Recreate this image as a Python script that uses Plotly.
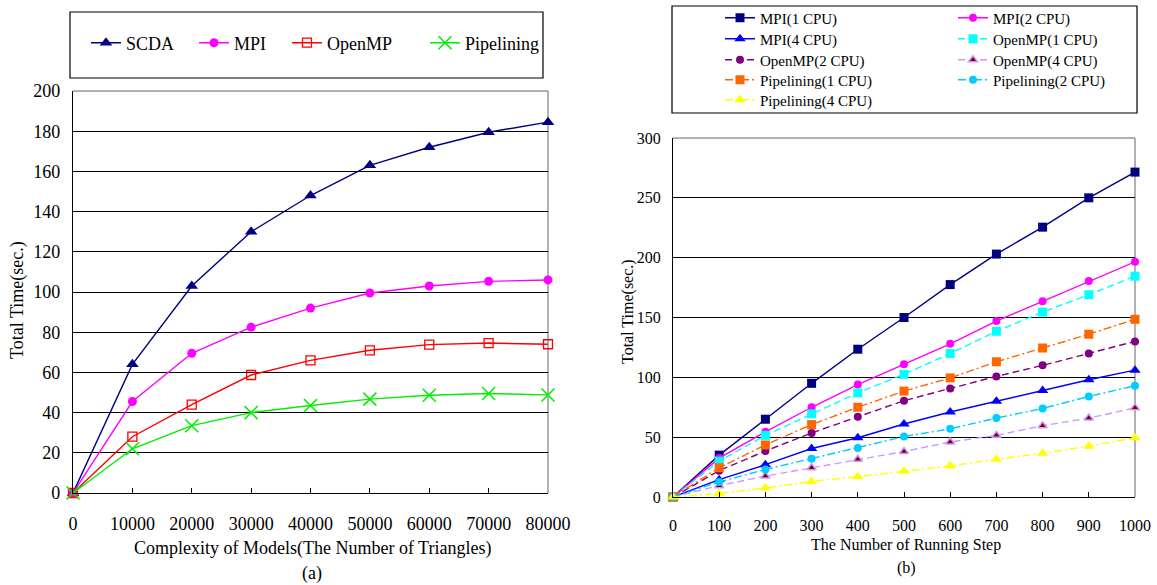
import plotly.graph_objects as go

# ---------------- data: chart (a) ----------------
complexity = [0, 10000, 20000, 30000, 40000, 50000, 60000, 70000, 80000]
scda = [0, 64, 103, 130, 148, 163, 172, 179.5, 184.5]
mpi = [0, 45.5, 69.5, 82.5, 92, 99.5, 103, 105.3, 106]
openmp = [0, 28, 44, 58.7, 66, 71, 73.8, 74.6, 74]
pipelining = [0, 22, 33.5, 40, 43.5, 46.7, 48.6, 49.5, 48.8]
ticks_a_x = [0, 10000, 20000, 30000, 40000, 50000, 60000, 70000, 80000]
ticks_a_y = [0, 20, 40, 60, 80, 100, 120, 140, 160, 180, 200]

# ---------------- data: chart (b) ----------------
steps = [0, 100, 200, 300, 400, 500, 600, 700, 800, 900, 1000]
mpi_1 = [0, 35, 65, 95, 123.5, 150, 177.5, 203, 225.5, 250, 271.5]
mpi_2 = [0, 32.5, 54.5, 75, 94, 111, 128, 147, 163.5, 180.5, 196.5]
mpi_4 = [0, 14.5, 27, 40.5, 49.5, 61, 71, 80, 89, 98, 106]
omp_1 = [0, 30, 51.5, 69.5, 87, 102.5, 120, 138.5, 154.5, 169, 184.5]
omp_2 = [0, 22, 38.5, 53.5, 67, 80.5, 90.7, 100.8, 110, 120, 130]
omp_4 = [0, 9.5, 17.5, 24.5, 31.5, 38, 46, 51.5, 59.5, 66, 74.5]
pip_1 = [0, 24.5, 43.5, 60.5, 75, 88.5, 99.5, 113, 124.5, 136, 148.5]
pip_2 = [0, 12.5, 23, 32, 41, 50.5, 57, 66, 74, 84, 93]
pip_4 = [0, 3, 7.5, 13, 17, 21.5, 26, 31.5, 36.5, 42.5, 49.5]
ticks_b_x = [0, 100, 200, 300, 400, 500, 600, 700, 800, 900, 1000]
ticks_b_y = [0, 50, 100, 150, 200, 250, 300]

W, H = 1157, 585
SERIF = "Liberation Serif"


def px_x(v):
    return v / W


def px_y(v):
    return 1 - v / H


fig = go.Figure()
legend_layout = {}
leg_count = [0]


def new_legend(x_px, y_px, size):
    leg_count[0] += 1
    key = "legend" if leg_count[0] == 1 else f"legend{leg_count[0]}"
    legend_layout[key] = dict(
        x=px_x(x_px), y=px_y(y_px), xanchor="left", yanchor="middle",
        bgcolor="rgba(0,0,0,0)", borderwidth=0, itemclick=False, itemdoubleclick=False,
        font=dict(family=SERIF, size=size, color="#000000"))
    return key


# ---- chart (a) traces ----
a_series = [
    ("SCDA", scda, "#000080", dict(symbol="triangle-up", size=11, color="#000080"), 86),
    ("MPI", mpi, "#FF00FF", dict(symbol="circle", size=9, color="#FF00FF"), 194),
    ("OpenMP", openmp, "#FF0000", dict(symbol="square-open", size=9, color="#FF0000", line=dict(width=1.3)), 287),
    ("Pipelining", pipelining, "#00EE00", dict(symbol="x-thin-open", size=13, color="#00EE00", line=dict(width=1.5, color="#00EE00")), 425),
]
for name, ys, col, mk, lx in a_series:
    lg = new_legend(lx, 43, 18)
    fig.add_trace(go.Scatter(
        x=complexity, y=ys, name=name, mode="lines+markers",
        line=dict(color=col, width=1.4), marker=mk,
        xaxis="x", yaxis="y", legend=lg, cliponaxis=False))

# ---- chart (b) traces ----
SOLID = "solid"
DASH = "7px,4px"
DASHDOT = "8px,3px,2px,3px"
COL1, COL2 = 720, 953
ROWS = [18, 39, 60, 80, 100]
b_series = [
    ("MPI(1 CPU)", mpi_1, "#000080", SOLID, dict(symbol="square", size=9, color="#000080"), COL1, ROWS[0]),
    ("MPI(2 CPU)", mpi_2, "#FF00FF", SOLID, dict(symbol="circle", size=8, color="#FF00FF"), COL2, ROWS[0]),
    ("MPI(4 CPU)", mpi_4, "#0000FF", SOLID, dict(symbol="triangle-up", size=10, color="#0000FF"), COL1, ROWS[1]),
    ("OpenMP(1 CPU)", omp_1, "#00FFFF", DASH, dict(symbol="square", size=9, color="#00FFFF"), COL2, ROWS[1]),
    ("OpenMP(2 CPU)", omp_2, "#800080", DASH, dict(symbol="circle", size=8, color="#800080"), COL1, ROWS[2]),
    ("OpenMP(4 CPU)", omp_4, "#CC99FF", DASH, dict(symbol="triangle-up", size=8, color="#800000", line=dict(color="#CC99FF", width=1.5)), COL2, ROWS[2]),
    ("Pipelining(1 CPU)", pip_1, "#FF6600", DASHDOT, dict(symbol="square", size=9, color="#FF6600"), COL1, ROWS[3]),
    ("Pipelining(2 CPU)", pip_2, "#00CCFF", DASHDOT, dict(symbol="circle", size=8, color="#00CCFF"), COL2, ROWS[3]),
    ("Pipelining(4 CPU)", pip_4, "#FFFF00", DASHDOT, dict(symbol="triangle-up", size=10, color="#FFFF00"), COL1, ROWS[4]),
]
for name, ys, col, dash, mk, lx, ly in b_series:
    lg = new_legend(lx, ly, 15)
    fig.add_trace(go.Scatter(
        x=steps, y=ys, name=name, mode="lines+markers",
        line=dict(color=col, width=1.4, dash=dash), marker=mk,
        xaxis="x2", yaxis="y2", legend=lg, cliponaxis=False))

fig.update_layout(**legend_layout)


# ---- axes ----
def xaxis(domain, rng, tickvals, size, anchor):
    return dict(domain=domain, range=rng, tickvals=tickvals, tickformat="d",
                ticks="inside", ticklen=5, tickcolor="#000000", tickwidth=1, anchor=anchor,
                ticklabelstandoff=14, showline=True, linecolor="#000000", linewidth=1.2,
                zeroline=False, showgrid=False,
                tickfont=dict(family=SERIF, size=size, color="#000000"))


def yaxis(domain, rng, tickvals, size, anchor):
    return dict(domain=domain, range=rng, tickvals=tickvals, tickformat="d",
                ticks="", anchor=anchor, ticklabelstandoff=8,
                showline=True, linecolor="#000000", linewidth=1.2,
                zeroline=False, showgrid=True, gridcolor="#000000", gridwidth=1,
                tickfont=dict(family=SERIF, size=size, color="#000000"))


fig.update_layout(
    xaxis=xaxis([px_x(73), px_x(548)], [0, 80000], ticks_a_x, 18, "y"),
    yaxis=yaxis([px_y(493), px_y(91)], [0, 200], ticks_a_y, 18, "x"),
    xaxis2=xaxis([px_x(673), px_x(1135)], [0, 1000], ticks_b_x, 16, "y2"),
    yaxis2=yaxis([px_y(497), px_y(138)], [0, 300], ticks_b_y, 16, "x2"),
)

# ---- plot frame (grey top / right) ----
for xr, yr in (("x domain", "y domain"), ("x2 domain", "y2 domain")):
    fig.add_shape(type="line", xref=xr, yref=yr, x0=0, x1=1, y0=1, y1=1,
                  line=dict(color="#999999", width=1.5), layer="below")
    fig.add_shape(type="line", xref=xr, yref=yr, x0=1, x1=1, y0=0, y1=1,
                  line=dict(color="#999999", width=1.5), layer="below")

# ---- legend boxes ----
fig.add_shape(type="rect", xref="paper", yref="paper",
              x0=px_x(70), x1=px_x(543), y0=px_y(78), y1=px_y(12),
              line=dict(color="#000000", width=1.2))
fig.add_shape(type="rect", xref="paper", yref="paper",
              x0=px_x(672), x1=px_x(1137), y0=px_y(113), y1=px_y(6),
              line=dict(color="#000000", width=1.2))

# ---- titles / captions ----
ann = [
    dict(text="Complexity of Models(The Number of Triangles)", x=312, y=548, size=18),
    dict(text="(a)", x=312, y=573, size=18),
    dict(text="The Number of Running Step", x=906, y=545, size=16),
    dict(text="(b)", x=906, y=568, size=16),
]
for a in ann:
    fig.add_annotation(text=a["text"], x=px_x(a["x"]), y=px_y(a["y"]), xref="paper", yref="paper",
                       showarrow=False, xanchor="center", yanchor="middle",
                       font=dict(family=SERIF, size=a["size"], color="#000000"))
fig.add_annotation(text="Total Time(sec.)", x=px_x(17), y=px_y(300), xref="paper", yref="paper",
                   showarrow=False, textangle=-90, xanchor="center", yanchor="middle",
                   font=dict(family=SERIF, size=18, color="#000000"))
fig.add_annotation(text="Total Time(sec.)", x=px_x(628), y=px_y(312), xref="paper", yref="paper",
                   showarrow=False, textangle=-90, xanchor="center", yanchor="middle",
                   font=dict(family=SERIF, size=16, color="#000000"))

fig.update_layout(width=W, height=H, margin=dict(l=0, r=0, t=0, b=0, autoexpand=False),
                  paper_bgcolor="#FFFFFF", plot_bgcolor="#FFFFFF", showlegend=True)

fig.write_html("out.html", config={"displayModeBar": False},
               post_script="document.body.style.margin='0';document.body.style.overflow='hidden';")
